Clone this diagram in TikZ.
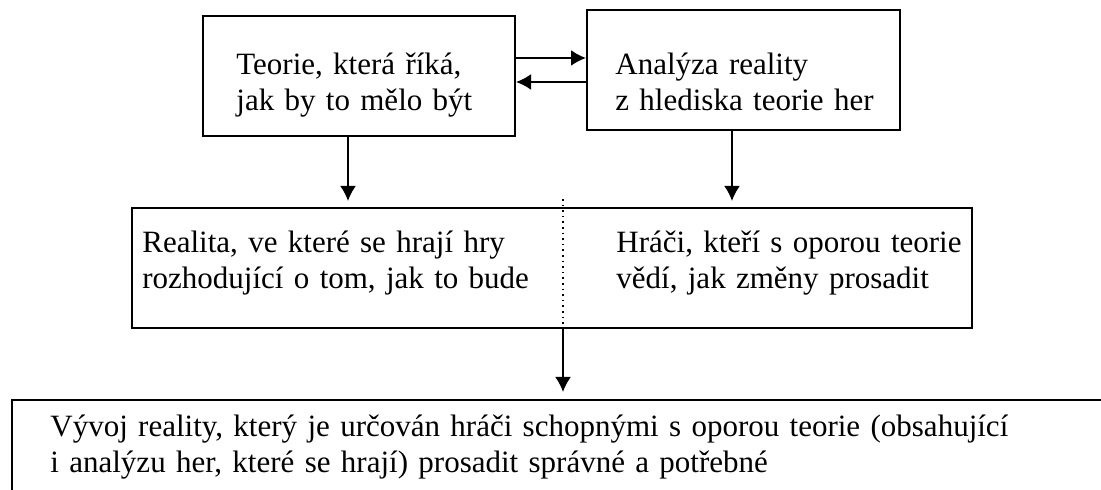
\documentclass[tikz,border=0pt]{standalone}
\usepackage{fontspec}
\setmainfont{Liberation Serif}
\usetikzlibrary{arrows.meta}
\begin{document}
\begin{tikzpicture}[
  x=0.5pt, y=-0.5pt,
  box/.style={rectangle, draw, line width=1pt, inner sep=0pt},
  txt/.style={inner sep=0pt, anchor=base west, align=left, text width=260pt, font=\fontsize{15.5pt}{18pt}\selectfont},
  arr/.style={-{Latex[length=7.5pt,width=8pt]}, line width=1pt}
]
\useasboundingbox (0,0) rectangle (1101,490);
\clip (0,0) rectangle (1101,490);

\node[box, minimum width=156pt, minimum height=60pt] (teorie) at (359,76) {};
\node[box, minimum width=156.5pt, minimum height=60pt] (analyza) at (743.5,70) {};
\node[box, minimum width=420pt, minimum height=60pt] (realita) at (552,268) {};
\node[box, minimum width=554pt, minimum height=60pt] (vyvoj) at (566,460) {};

\node[txt] (teorie-t) at (236,75) {Teorie, která říká,\\jak by to mělo být};
\node[txt] (analyza-t) at (615,75) {Analýza reality\\z hlediska teorie her};
\node[txt] (realita-t) at (142,253) {Realita, ve které se hrají hry\\rozhodující o tom, jak to bude};
\node[txt] (hraci-t) at (616,253) {Hráči, kteří s oporou teorie\\vědí, jak změny prosadit};
\node[txt, text width=530pt] (vyvoj-t) at (50,437) {Vývoj reality, který je určován hráči schopnými s oporou teorie (obsahující\\i analýzu her, které se hrají) prosadit správné a potřebné};

\draw[arr] ([yshift=9pt]teorie.east) -- ([yshift=9pt]teorie.east -| analyza.west);
\draw[arr] ([yshift=-6pt]analyza.west) -- ([yshift=-6pt]analyza.west -| teorie.east);
\draw[arr, shorten >=3pt] ([xshift=-5.5pt]teorie.south) -- ([xshift=-5.5pt]teorie.south |- realita.north);
\draw[arr, shorten >=3pt] ([xshift=-5.75pt]analyza.south) -- ([xshift=-5.75pt]analyza.south |- realita.north);
\draw[dotted, line width=0.8pt] ([xshift=5.5pt,yshift=4pt]realita.north) -- ([xshift=5.5pt]realita.south);
\draw[arr, shorten >=3.5pt] ([xshift=5.5pt]realita.south) -- ([xshift=5.5pt]realita.south |- vyvoj.north);
\end{tikzpicture}
\end{document}
